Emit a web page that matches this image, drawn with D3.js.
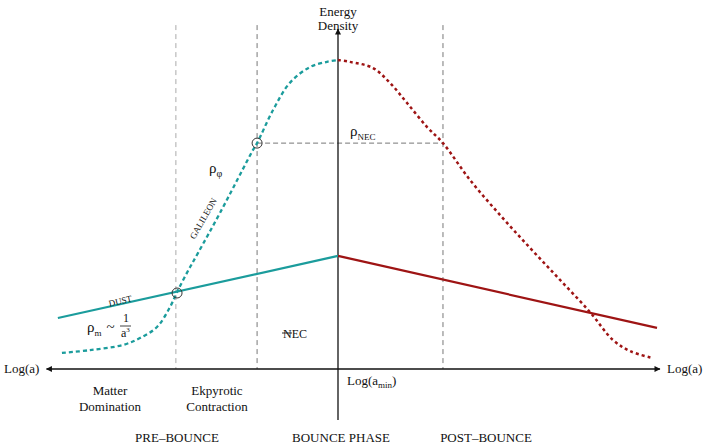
<!DOCTYPE html>
<html><head><meta charset="utf-8">
<script src="https://cdn.jsdelivr.net/npm/d3@7"></script>
<style>body{margin:0;background:#fff}svg{display:block}</style>
</head><body><svg id="c" width="707" height="444"></svg>
<script>
// ---- data (x = log a relative to bounce, y = energy density) ----
const galileonPreX = [-9.52,-8.55,-7.41,-6.83,-6.24,-5.79,-5.55,-5.21,-4.83,-4.07,-2.93,-2.79,-2.24,-1.66,-0.97,-0.38,0];
const galileonPreY = [5.2,6.1,7.8,10.0,13.6,20.1,24.9,31.1,37.5,50.5,70.9,73.1,83.8,92.6,97.7,99.4,100];
const galileonPostX = [0,0.41,1.21,1.79,2.38,3.07,3.62,4.55,5.59,6.62,7.66,8.69,9.48,10.07,10.83];
const galileonPostY = [100,99.4,97.4,92.6,86.1,78.3,73.1,61.2,49.8,39.2,28.8,18.4,9.4,5.8,3.6];
const dustPreX = [-9.66, 0];
const dustPreY = [16.5, 36.6];
const dustPostX = [0, 11.0];
const dustPostY = [36.6, 13.3];
const regionBounds = [-5.59, -2.79, 3.62];
const necLevel = 73.1;
const crossX = [-5.55, -2.79];
const crossY = [24.6, 73.1];
const phaseLabels = ["PRE\u2013BOUNCE", "BOUNCE PHASE", "POST\u2013BOUNCE"];
const subLabels = [["Matter","Domination"],["Ekpyrotic","Contraction"]];

const FONT = '"Liberation Serif"';
const teal = "#1b9c9c", red = "#9e1414";
const svg = d3.select("#c");
const x = d3.scaleLinear().domain([-10, 10]).range([48, 628]);
const y = d3.scaleLinear().domain([0, 100]).range([369, 60]);

const defs = svg.append("defs");
defs.append("marker").attr("id","arr").attr("viewBox","0 0 10 10").attr("refX",9).attr("refY",5)
  .attr("markerWidth",9).attr("markerHeight",6).attr("markerUnits","userSpaceOnUse").attr("orient","auto")
  .append("path").attr("d","M0,0L10,5L0,10z").attr("fill","#111");

svg.selectAll(".reg").data(regionBounds).enter().append("line")
  .attr("x1",d=>x(d)).attr("x2",d=>x(d)).attr("y1",y(111.3)).attr("y2",y(0))
  .attr("stroke",(d,i)=>i===0?"#aaa":"#777").attr("stroke-width",1).attr("stroke-dasharray","5,4");
svg.append("line").attr("x1",x(regionBounds[1])).attr("x2",x(regionBounds[2]))
  .attr("y1",y(necLevel)).attr("y2",y(necLevel)).attr("stroke","#777").attr("stroke-dasharray","5,3");

svg.append("line").attr("x1",x(0)).attr("x2",x(0)).attr("y1",y(-16.5)).attr("y2",y(110))
  .attr("stroke","#111").attr("stroke-width",1.3).attr("marker-end","url(#arr)");
svg.append("line").attr("x1",x(0)).attr("x2",x(11.1)).attr("y1",y(0)).attr("y2",y(0))
  .attr("stroke","#111").attr("stroke-width",1.3).attr("marker-end","url(#arr)");
svg.append("line").attr("x1",x(0)).attr("x2",x(-10.05)).attr("y1",y(0)).attr("y2",y(0))
  .attr("stroke","#111").attr("stroke-width",1.3).attr("marker-end","url(#arr)");

const line = d3.line().x(d=>x(d[0])).y(d=>y(d[1])).curve(d3.curveCatmullRom.alpha(0.5));
const zip = (a,b)=>a.map((v,i)=>[v,b[i]]);

svg.append("path").attr("d",line(zip(dustPreX,dustPreY))).attr("fill","none").attr("stroke",teal).attr("stroke-width",2.2);
svg.append("path").attr("d",line(zip(dustPostX,dustPostY))).attr("fill","none").attr("stroke",red).attr("stroke-width",2.2);
svg.append("path").attr("d",line(zip(galileonPreX,galileonPreY))).attr("fill","none").attr("stroke",teal)
  .attr("stroke-width",2.3).attr("stroke-dasharray","4,3");
svg.append("path").attr("d",line(zip(galileonPostX,galileonPostY))).attr("fill","none").attr("stroke",red)
  .attr("stroke-width",2.5).attr("stroke-dasharray","3,3");

svg.selectAll(".cr").data(crossX).enter().append("circle")
  .attr("cx",d=>x(d)).attr("cy",(d,i)=>y(crossY[i])).attr("r",5)
  .attr("fill","none").attr("stroke","#333").attr("stroke-width",1);

const TX = (px,py,fs) => svg.append("text").attr("x",px).attr("y",py).attr("fill","#111")
  .style("font-size",fs+"px").style("font-family",FONT);
const T = (t,px,py,opt={}) => TX(px,py,opt.fs||13).attr("text-anchor",opt.anchor||"start").text(t);
T("Energy",338,16,{anchor:"middle"});
T("Density",338,30,{anchor:"middle"});
T("Log(a)",4,373);
T("Log(a)",667,373);
const lm = TX(347,385,13);
lm.append("tspan").text("Log(a");
lm.append("tspan").style("font-size","9px").attr("dy",3).text("min");
lm.append("tspan").attr("dy",-3).text(")");
const pn = TX(350,136,15);
pn.append("tspan").text("\u03c1");
pn.append("tspan").style("font-size","9px").attr("dy",4).text("NEC");
const pp = TX(209,173,15);
pp.append("tspan").text("\u03c1");
pp.append("tspan").style("font-size","10px").attr("dy",4).text("\u03c6");
const pm = TX(87,332,15);
pm.append("tspan").text("\u03c1");
pm.append("tspan").style("font-size","9px").attr("dy",4).text("m");
pm.append("tspan").attr("dy",-4).attr("dx",5).text("~");
T("1",126,322,{anchor:"middle",fs:12});
svg.append("line").attr("x1",120).attr("x2",131).attr("y1",326).attr("y2",326).attr("stroke","#111").attr("stroke-width",0.8);
const a3 = TX(121,337,12);
a3.append("tspan").text("a");
a3.append("tspan").style("font-size","7px").attr("dy",-5).text("3");
TX(0,0,9).attr("transform","translate(121,304) rotate(-13)").attr("text-anchor","middle").text("DUST");
TX(0,0,9).attr("transform","translate(206,220) rotate(-60)").attr("text-anchor","middle").text("GALILEON");
T("NEC",295,338,{anchor:"middle",fs:12});
svg.append("line").attr("x1",282).attr("x2",292).attr("y1",333).attr("y2",333).attr("stroke","#111").attr("stroke-width",0.9);

const subX = [110, 217];
subLabels.forEach((s,i)=>{ T(s[0],subX[i],395,{anchor:"middle"}); T(s[1],subX[i],411,{anchor:"middle"}); });
const phX = [177, 341, 486];
phaseLabels.forEach((s,i)=>T(s,phX[i],442,{anchor:"middle"}));
</script></body></html>
